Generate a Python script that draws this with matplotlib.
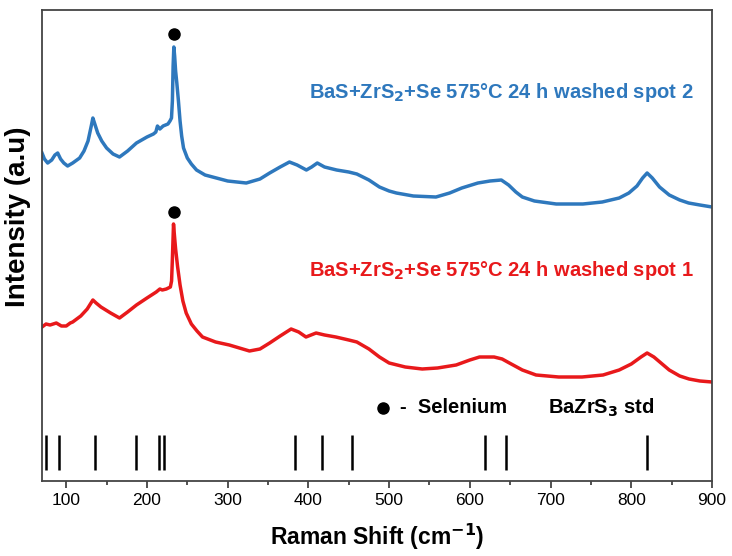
import matplotlib
matplotlib.use("Agg")
import matplotlib.pyplot as plt

plt.rcParams['font.family'] = ['Liberation Sans', 'DejaVu Sans']

# Raman spectrum, spot 2 (offset upward)
spot2_shift = [70, 73, 77, 82, 86, 89.4, 93, 97, 101.7, 108, 116.6, 122, 127, 131, 133,
               135, 139, 144, 150, 158, 166, 176, 187, 200, 208, 211, 213, 216, 220,
               226, 228.5, 230.4, 231.5, 232.4, 233.3, 234.3, 235.5, 237, 239, 241,
               243, 245.3, 250, 255, 261.4, 272, 286, 300, 323, 340, 352, 365, 376.5,
               386, 397.5, 404, 411, 420, 435, 450, 460, 475, 488, 500, 509, 530, 558,
               575, 590, 610, 625, 639, 648, 657, 665, 680, 707, 740, 764, 785, 797,
               807, 814, 819.6, 826, 835, 847, 860, 871, 885, 900]
spot2_int = [328, 322, 318, 321, 326, 328, 322, 318, 315, 318, 323, 330, 340, 355, 363,
             358, 348, 340, 333, 327, 324, 330, 338, 344, 347, 349, 355, 352, 355,
             357, 360, 363, 380, 415, 434, 425, 410, 398, 380, 360,
             345, 333, 323, 317, 311, 306, 303, 300, 298, 302, 308, 314, 319,
             316, 311, 314, 318, 314, 311, 309, 307, 301, 294, 290, 288, 285, 284,
             288, 293, 298, 300, 301, 296, 289, 284, 280, 277, 277, 279, 283, 288,
             295, 303, 308, 303, 294, 286, 281, 278, 276, 274]

# Raman spectrum, spot 1
spot1_shift = [70, 75, 80, 87.7, 94, 100, 105, 108, 118, 126, 133, 137, 143, 155, 166,
               176, 187, 200, 211.5, 216, 219, 224, 229, 230.5, 231.5, 232.9, 234,
               235.5, 238, 241, 244.5, 248.6, 255, 262, 268.8, 285, 302, 327, 340, 352,
               365, 378.6, 388, 397, 409.5, 420, 434, 450, 460, 475, 488, 500, 520,
               541, 560, 583, 600, 612, 630, 640, 649, 665, 682, 710, 739, 765, 785,
               800, 812, 819.6, 828, 847, 860, 871.5, 885, 900]
spot1_int = [154, 157, 156, 158, 155, 155, 158, 159, 165, 172, 181, 178, 174, 168, 163,
             169, 176, 183, 189, 192, 191, 192, 194, 200, 222, 257, 246,
             232, 214, 196, 180, 168, 157, 150, 144, 139, 136, 130, 132, 138,
             145, 152, 149, 144, 148, 146, 144, 141, 139, 132, 124, 118, 114,
             112, 113, 116, 121, 124, 124, 122, 118, 111, 106, 104, 104, 106, 111,
             117, 124, 128, 124, 111, 105, 102, 100, 99]

# Selenium marker positions (shift, height)
se_shift = [233.3, 233.3]
se_height = [447, 269]

# BaZrS3 reference lines
bazrs3_lines = [75, 90.6, 135.9, 185.9, 215, 221.5, 383.4, 417.3, 454.4, 618.8, 644.8, 820]
stick_bottom, stick_top = 11, 46

blue = '#2E78BD'
red = '#E8191B'

fig = plt.figure(figsize=(7.32, 5.56), dpi=100)
ax = fig.add_axes([0.0574, 0.1349, 0.9153, 0.8471])

ax.plot(spot2_shift, spot2_int, color=blue, lw=2.5, solid_joinstyle='round')
ax.plot(spot1_shift, spot1_int, color=red, lw=2.5, solid_joinstyle='round')
ax.plot(se_shift, se_height, 'o', color='black', ms=8)
ax.vlines(bazrs3_lines, stick_bottom, stick_top, color='black', lw=1.8)

ax.text(639, 389, 'BaS+ZrS$_\\mathbf{2}$+Se 575°C 24 h washed spot 2', color=blue,
        fontsize=14.5, fontweight='bold', ha='center', va='center')
ax.text(639, 211, 'BaS+ZrS$_\\mathbf{2}$+Se 575°C 24 h washed spot 1', color=red,
        fontsize=14.5, fontweight='bold', ha='center', va='center')

# key for the markers and reference lines
ax.plot([492], [73], 'o', color='black', ms=8)
ax.text(513, 73, '-  Selenium', color='black', fontsize=14.5, fontweight='bold',
        ha='left', va='center')
ax.text(697, 73, 'BaZrS$_\\mathbf{3}$ std', color='black', fontsize=14.5, fontweight='bold',
        ha='left', va='center')

ax.set_xlim(70, 900)
ax.set_ylim(0, 471)
ax.set_xticks(range(100, 901, 100))
ax.set_xticks(range(150, 900, 100), minor=True)
ax.set_yticks([])
ax.tick_params(axis='x', which='major', direction='out', length=5, width=1.2,
               labelsize=12.5, colors='#333333', labelcolor='black')
ax.tick_params(axis='x', which='minor', direction='out', length=3, width=1.2,
               colors='#333333')
for s in ax.spines.values():
    s.set_color('#444444')
    s.set_linewidth(1.3)

ax.set_xlabel('Raman Shift (cm$^{\\mathbf{-1}}$)', fontsize=16.5, fontweight='bold', labelpad=10)
ax.set_ylabel('Intensity (a.u)', fontsize=20, fontweight='bold')
ax.yaxis.set_label_coords(-0.016, 0.56)

fig.savefig('out.png', dpi=100)
